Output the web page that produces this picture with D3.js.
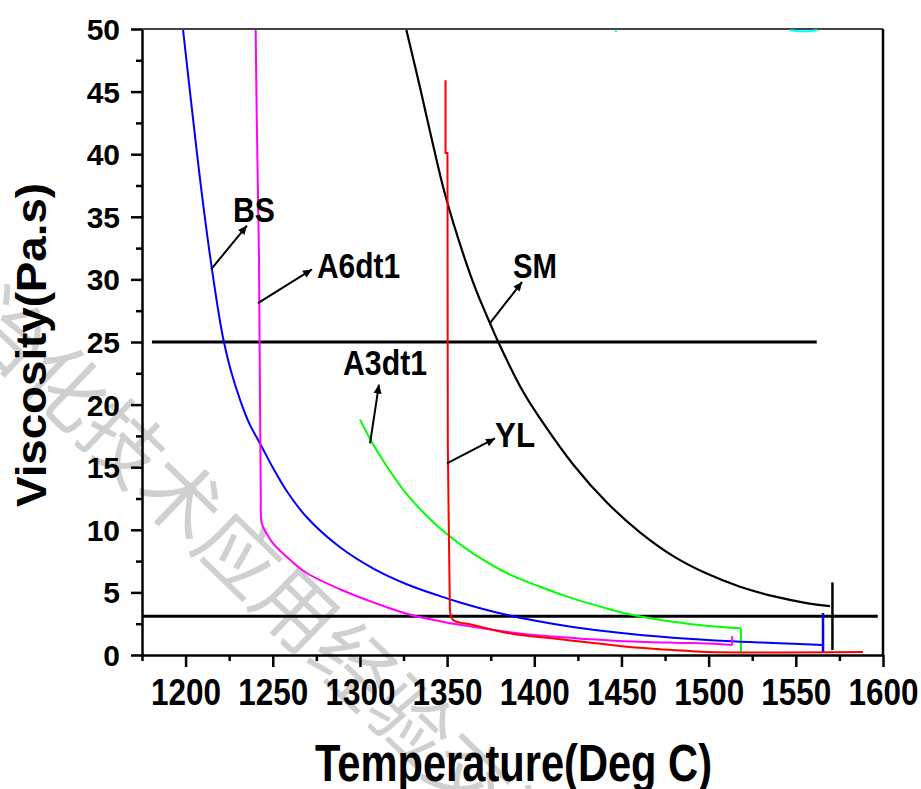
<!DOCTYPE html>
<html>
<head>
<meta charset="utf-8">
<script src="https://cdn.jsdelivr.net/npm/d3@7"></script>
<style>
  html, body { margin: 0; padding: 0; background: #fff; }
  svg text { font-family: "Liberation Sans", Arial, Helvetica, sans-serif; font-weight: bold; }
</style>
</head>
<body>
<div class="chart"></div>
<script>
// data: [temperature, viscosity]
const seriesBS = [[1198.5,50],[1203.8,43.4],[1208.3,38.0],[1213.4,32.5],[1219.7,26.7],[1222,25],[1226,22.7],
  [1231.2,20.4],[1236.5,18.5],[1242.7,16.9],[1250.3,14.9],[1258,13.1],[1269.5,11.0],[1288.6,8.6],[1307.7,6.9],
  [1326.8,5.65],[1346,4.7],[1357.4,4.2],[1378.4,3.4],[1400,2.75],[1422,2.24],[1450,1.75],[1479.5,1.38],
  [1510,1.12],[1537,0.96],[1565.6,0.8]];
const dropBS = [[1565.6,0.8],[1565.6,3.35],[1565.6,0.15]];
const seriesA6 = [[1240.2,50],[1240.8,43],[1242.1,31.8],[1243.1,13],[1243.7,10.5],[1246.5,9.7],[1250.3,8.9],
  [1259.9,7.6],[1269.5,6.55],[1288.6,5.25],[1307.7,4.2],[1326.8,3.3],[1346,2.7],[1355.5,2.45],[1387,1.8],
  [1403.3,1.55],[1430,1.28],[1449,1.12],[1480,0.98],[1499,0.92],[1513.5,0.8]];
const dropA6 = [[1513.5,0.8],[1513.5,1.5]];
const seriesYL = [[1349.1,45.9],[1349.1,40.1],[1350.2,40.1],[1350.4,16.9],[1350.9,10.9],[1351.6,3.6]];
const tailYL = [[1351.6,3.6],[1353.5,2.8],[1364.9,2.4],[1387,1.7],[1410,1.33],[1430,1.02],[1449,0.72],[1468,0.5],
  [1487,0.34],[1499,0.24],[1588.5,0.24]];
const seriesA3 = [[1300,18.8],[1307.7,16.8],[1319.2,14.3],[1326.8,12.85],[1342.1,10.6],[1350.5,9.6],[1357.4,8.85],
  [1365,8.1],[1384.2,6.55],[1403.3,5.45],[1422.4,4.5],[1441.5,3.72],[1453,3.3],[1479.7,2.65],[1500,2.32],
  [1518.5,2.13]];
const dropA3 = [[1518.5,2.13],[1518.5,0.2]];
const seriesSM = [[1326.5,50],[1334.5,45.3],[1341.2,41.2],[1348.8,36.8],[1359.3,32.0],[1367,29.0],[1374.6,26.5],
  [1379,25.1],[1393.7,21.0],[1403.3,18.9],[1422.4,15.2],[1441.5,12.2],[1460.6,9.8],[1479.7,7.9],[1498.9,6.5],
  [1518,5.45],[1537,4.7],[1556.2,4.15],[1569.6,3.9]];
const markSM = [[1571,5.8],[1571,0.4]];
const limitHigh = [[1180.7,25],[1562,25]];
const limitLow = [[1175,3.1],[1597,3.1]];
const cyanBits = [[[1446.7,49.95],[1446.9,49.75]], [[1546.5,49.9],[1552,49.82],[1557,49.82],[1562.5,49.9]]];

const xTicks = [1200,1250,1300,1350,1400,1450,1500,1550,1600];
const xMinor = [1175,1225,1275,1325,1375,1425,1475,1525,1575];
const yTicks = [0,5,10,15,20,25,30,35,40,45,50];
const yMinor = [2.5,7.5,12.5,17.5,22.5,27.5,32.5,37.5,42.5,47.5];

// arrow labels: from point on curve, arrow tip, text start (data units)
const labels = [
  {text: 'BS', from: [1214.6,30.8], to: [1235.2,34.3], at: [1227.2,34.6]},
  {text: 'A6dt1', from: [1241.5,28.1], to: [1272.5,30.8], at: [1275.4,30.1]},
  {text: 'SM', from: [1374.6,26.5], to: [1393,29.8], at: [1387.8,30.1]},
  {text: 'A3dt1', from: [1305.8,16.9], to: [1310.9,21.6], at: [1290.3,22.4]},
  {text: 'YL', from: [1349.9,15.3], to: [1377.5,17.3], at: [1377.5,16.6]}
];
const labelWidth = {BS: 42, A6dt1: 83, SM: 44, A3dt1: 84, YL: 40};

const W = 921, H = 789;
const margin = {top: 29, right: 38, bottom: 134, left: 142};
const width = W - margin.left - margin.right;
const height = H - margin.top - margin.bottom;

const svgRoot = d3.select('.chart').append('svg')
  .attr('width', W)
  .attr('height', H);

// watermark
svgRoot.append('text')
  .attr('transform', 'translate(-41,325) rotate(44)')
  .style('font-family', '"Noto Sans CJK SC", sans-serif')
  .style('font-weight', 'normal')
  .style('font-size', '80px')
  .attr('fill', '#d0d0d0')
  .text('冶化技术应用经验交流');

const svg = svgRoot.append('g')
  .attr('transform', `translate(${margin.left}, ${margin.top})`);

const x = d3.scaleLinear().domain([1175, 1600]).range([0, width]);
const y = d3.scaleLinear().domain([0, 50]).range([height, 0]);

svg.append('defs').append('clipPath').attr('id', 'clip')
  .append('rect').attr('x', 0).attr('y', -2).attr('width', width).attr('height', height + 2);

svg.select('defs').append('marker')
  .attr('id', 'arrow')
  .attr('viewBox', '0 0 10 10')
  .attr('refX', 10).attr('refY', 5)
  .attr('markerWidth', 13).attr('markerHeight', 9)
  .attr('markerUnits', 'userSpaceOnUse')
  .attr('orient', 'auto')
  .append('path').attr('d', 'M0,0.5 L10,5 L0,9.5 Z').attr('fill', '#000');

const line = d3.line().x(d => x(d[0])).y(d => y(d[1]));
const smooth = d3.line().x(d => x(d[0])).y(d => y(d[1])).curve(d3.curveCatmullRom.alpha(0.5));

const plot = svg.append('g').attr('clip-path', 'url(#clip)');

const curves = [
  {data: limitHigh, color: '#000', w: 3, gen: line},
  {data: limitLow, color: '#000', w: 3, gen: line},
  {data: seriesSM, color: '#000', w: 2.2, gen: smooth},
  {data: markSM, color: '#000', w: 2.5, gen: line},
  {data: seriesA3, color: '#00ff00', w: 2, gen: smooth},
  {data: dropA3, color: '#00ff00', w: 2, gen: line},
  {data: seriesBS, color: '#0000ff', w: 2, gen: smooth},
  {data: dropBS, color: '#0000ff', w: 2.5, gen: line},
  {data: seriesA6, color: '#ff00ff', w: 2, gen: smooth},
  {data: dropA6, color: '#ff00ff', w: 2, gen: line},
  {data: seriesYL, color: '#ff0000', w: 2, gen: line},
  {data: tailYL, color: '#ff0000', w: 2, gen: smooth}
];

plot.selectAll('path.curve')
  .data(curves)
  .enter()
  .append('path')
  .attr('class', 'curve')
  .attr('d', d => d.gen(d.data))
  .attr('fill', 'none')
  .attr('stroke', d => d.color)
  .attr('stroke-width', d => d.w);

// axes
const xAxis = svg.append('g')
  .attr('transform', `translate(0, ${height})`)
  .call(d3.axisBottom(x).tickValues(xTicks).tickSize(12).tickSizeOuter(0).tickFormat(d3.format('d')));
svg.append('g')
  .attr('transform', `translate(0, ${height})`)
  .call(d3.axisBottom(x).tickValues(xMinor).tickSize(6).tickFormat(''))
  .select('.domain').remove();

xAxis.selectAll('text')
  .attr('y', 50).attr('dy', 0)
  .attr('textLength', 70).attr('lengthAdjust', 'spacingAndGlyphs')
  .style('font-size', '37px');

const yAxis = svg.append('g')
  .call(d3.axisLeft(y).tickValues(yTicks).tickSize(11).tickSizeOuter(0));
svg.append('g')
  .call(d3.axisLeft(y).tickValues(yMinor).tickSize(6).tickFormat(''))
  .select('.domain').remove();

yAxis.selectAll('text')
  .attr('x', -22)
  .attr('dy', '0.35em')
  .style('font-size', '30px');

svg.selectAll('.domain, .tick line')
  .attr('stroke', '#000')
  .attr('stroke-width', 2.5);
svg.selectAll('.tick text').attr('fill', '#000');

// frame top and right
svg.append('line')
  .attr('x1', 0).attr('x2', width).attr('y1', 0).attr('y2', 0)
  .attr('stroke', '#444').attr('stroke-width', 2);
svg.append('line')
  .attr('x1', width).attr('x2', width).attr('y1', 0).attr('y2', height)
  .attr('stroke', '#000').attr('stroke-width', 2.5);

svg.selectAll('path.cyan')
  .data(cyanBits)
  .enter()
  .append('path')
  .attr('class', 'cyan')
  .attr('d', d => line(d))
  .attr('fill', 'none')
  .attr('stroke', '#00ffff')
  .attr('stroke-width', 2);

// annotations
svg.selectAll('line.arrow')
  .data(labels)
  .enter()
  .append('line')
  .attr('class', 'arrow')
  .attr('x1', d => x(d.from[0])).attr('y1', d => y(d.from[1]))
  .attr('x2', d => x(d.to[0])).attr('y2', d => y(d.to[1]))
  .attr('stroke', '#000')
  .attr('stroke-width', 2)
  .attr('marker-end', 'url(#arrow)');

svg.selectAll('text.label')
  .data(labels)
  .enter()
  .append('text')
  .attr('class', 'label')
  .attr('x', d => x(d.at[0]))
  .attr('y', d => y(d.at[1]))
  .attr('textLength', d => labelWidth[d.text])
  .attr('lengthAdjust', 'spacingAndGlyphs')
  .style('font-size', '35px')
  .text(d => d.text);

// axis titles
svgRoot.append('text')
  .attr('x', 315).attr('y', 781)
  .attr('textLength', 397).attr('lengthAdjust', 'spacingAndGlyphs')
  .style('font-size', '51px')
  .text('Temperature(Deg C)');

svgRoot.append('text')
  .attr('transform', 'translate(46, 345) rotate(-90)')
  .attr('text-anchor', 'middle')
  .attr('textLength', 324).attr('lengthAdjust', 'spacingAndGlyphs')
  .style('font-size', '42px')
  .text('Viscosity(Pa.s)');
</script>
</body>
</html>
